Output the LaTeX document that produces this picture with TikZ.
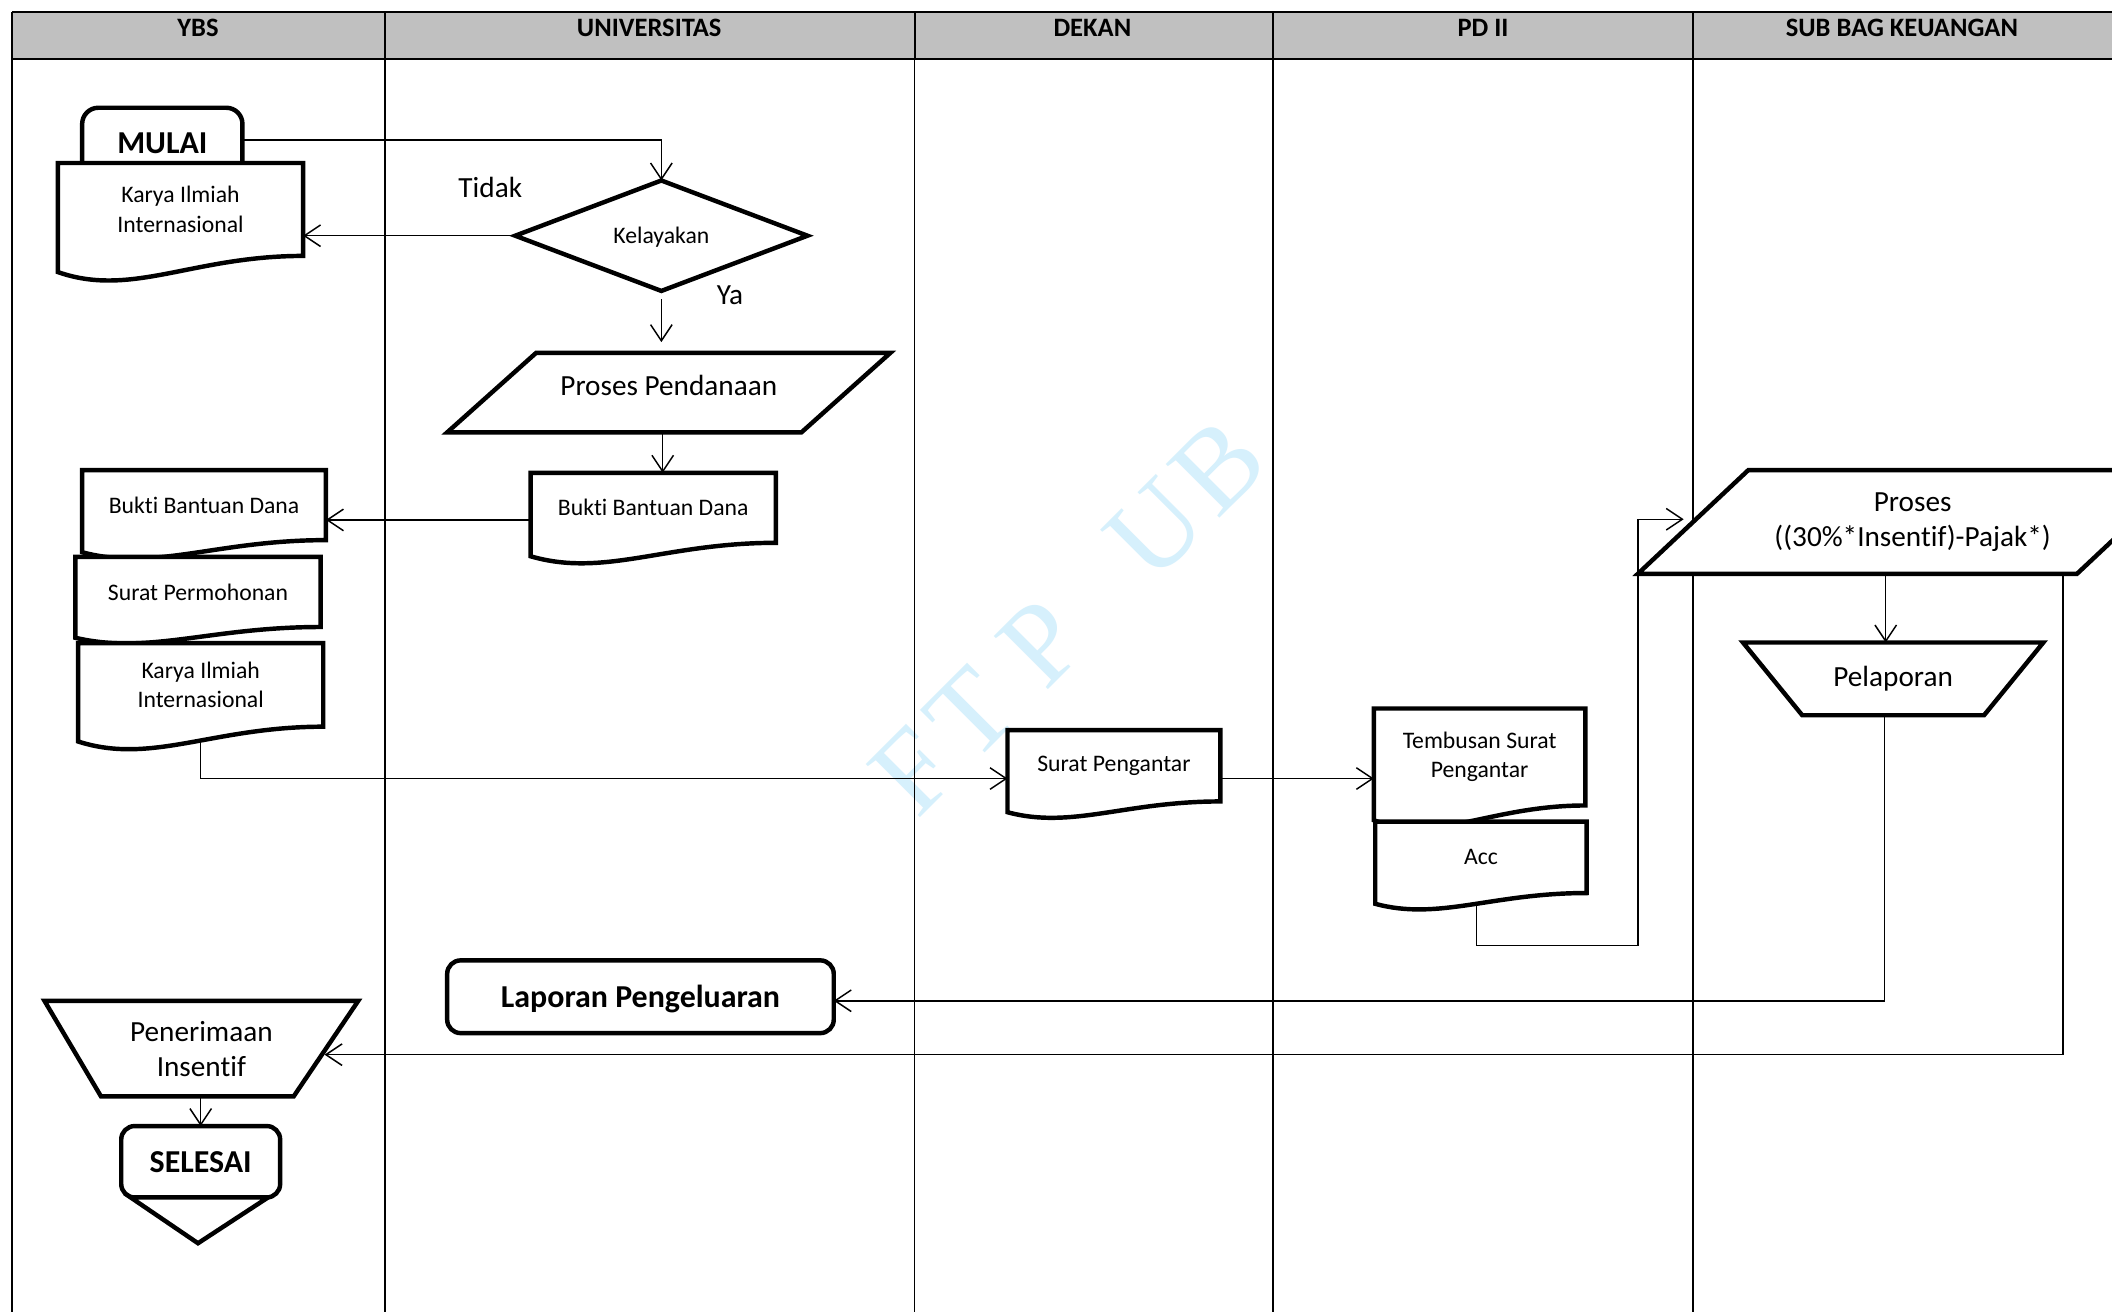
\documentclass[tikz,border=0pt]{standalone}
\usepackage{fontspec}
\setmainfont{Carlito}[Ligatures=CommonOff]
\newfontfamily\wmfont{Liberation Serif}
\usetikzlibrary{arrows.meta,calc}
\definecolor{hdrgray}{RGB}{192,192,192}
\definecolor{wmblue}{RGB}{214,240,252}
\pgfdeclarelayer{back}
\pgfdeclarelayer{conns}
\pgfdeclarelayer{shapes}
\pgfsetlayers{back,conns,shapes,main}
\newcommand{\fsm}{\fontsize{17.6}{22}\selectfont}
\newcommand{\fmd}{\fontsize{21.7}{26}\selectfont}
\newcommand{\fbg}{\fontsize{23.7}{28}\selectfont\bfseries}
\newcommand{\fhd}{\fontsize{19.7}{24}\selectfont\bfseries}
\tikzset{
  shp/.style={line width=3.3pt, draw=black, fill=white},
  conn/.style={line width=1.1pt, -{Straight Barb[length=12pt,width=16pt]}},
  box/.style={inner sep=0pt, outer sep=0pt, align=center},
  lane/.style={line width=1.2pt},
  hline/.style={line width=1.6pt},
  wmark/.style={text=wmblue, font=\wmfont\fontsize{86}{86}\selectfont, rotate=45, inner sep=0pt, outer sep=0pt, anchor=base west},
}
\newcommand{\docdraw}[2]{%
  \draw[shp] (#1.north west) -- (#1.north east) -- (#1.south east)
    .. controls ($(#1.south east)!0.45!(#1.south west)$)
       and ($(#1.south west)!0.3!(#1.south east)+(0,{2.6*#2})$)
    .. ($(#1.south west)+(0,#2)$) -- cycle;}
\begin{document}
\begin{tikzpicture}[x=1pt,y=-1pt]
\useasboundingbox (0,0) rectangle (1568,974);
% ---------- background, lanes, watermark ----------
\begin{pgfonlayer}{back}
\fill[white] (0,0) rectangle (1568,974);
\fill[hdrgray] (9,9) rectangle (1600,44);
\node[wmark] (wF) at (681.3,609.1) {F};
\node[wmark] (wT) at (721.9,568.5) {T};
\node[wmark] (wP) at (776,514.4) {P};
\node[wmark] (wU) at (855.9,434.5) {U};
\node[wmark] (wB) at (904,386.4) {B};
\draw[hline] (9,9) -- (1600,9);
\draw[hline] (9,44) -- (1600,44);
\draw[lane] (9,9) -- (9,1000);
\foreach \xx in {286,679,945,1257} {
  \draw[hline] (\xx,9) -- (\xx,44);
  \draw[lane] (\xx,44) -- (\xx,1000);
}
\end{pgfonlayer}
% ---------- headers ----------
\node[font=\fhd] (h1) at (147,21) {YBS};
\node[font=\fhd] (h2) at (482,21) {UNIVERSITAS};
\node[font=\fhd] (h3) at (811,21) {DEKAN};
\node[font=\fhd] (h4) at (1101,21) {PD II};
\node[font=\fhd] (h5) at (1412,21) {SUB BAG KEUANGAN};
% ---------- nodes ----------
\node[box, font=\fbg, minimum width=119pt, minimum height=52pt] (mulai) at (120.5,106) {MULAI};
\node[box, font=\fsm, minimum width=182pt, minimum height=69pt] (k1) at (134,155.5) {Karya Ilmiah\\Internasional};
\node[box, font=\fsm, minimum width=217pt, minimum height=82pt, text depth=0pt] (dia) at (491,175) {Kelayakan};
\node[font=\fmd] (tidak) at (364,139) {Tidak};
\node[font=\fmd] (ya) at (542,219) {Ya};
\node[box, font=\fmd, minimum width=329pt, minimum height=59pt, text depth=11pt] (pp) at (496.5,291.5) {Proses Pendanaan};
\node[box, font=\fsm, minimum width=182pt, minimum height=52pt] (bbu) at (485,377) {Bukti Bantuan Dana};
\node[box, font=\fsm, minimum width=181pt, minimum height=52pt] (bbl) at (151.5,375) {Bukti Bantuan Dana};
\node[box, font=\fsm, minimum width=182pt, minimum height=52pt] (spl) at (147,439.5) {Surat Permohonan};
\node[box, font=\fsm, minimum width=182pt, minimum height=62pt] (k2) at (149,508.5) {Karya Ilmiah\\Internasional};
\node[box, font=\fsm, minimum width=158pt, minimum height=53pt] (ssp) at (827,568.5) {Surat Pengantar};
\node[box, font=\fsm, minimum width=157pt, minimum height=72pt] (tsp) at (1098.5,562) {Tembusan Surat\\Pengantar};
\node[box, font=\fsm, minimum width=157pt, minimum height=53pt] (acc) at (1099.5,636.5) {Acc};
\node[box, font=\fmd, minimum width=408pt, minimum height=77pt] (prc) at (1420,387.5) {Proses\\((30\%*Insentif)-Pajak*)};
\node[box, font=\fmd, minimum width=223pt, minimum height=54pt] (pel) at (1405.5,504) {Pelaporan};
\node[box, font=\fbg, minimum width=287pt, minimum height=54pt, text depth=0pt] (lap) at (475.5,740) {Laporan Pengeluaran};
\node[box, font=\fmd, minimum width=233pt, minimum height=71pt] (pen) at (149.5,778.5) {Penerimaan\\Insentif};
\node[box, font=\fbg, minimum width=118pt, minimum height=53pt] (sel) at (149,862.5) {SELESAI};
% ---------- shapes ----------
\begin{pgfonlayer}{shapes}
\draw[shp, rounded corners=12pt] (mulai.south west) -- (mulai.north west) -- (mulai.north east) -- (mulai.south east);
\docdraw{k1}{12}
\draw[shp] (dia.north) -- (dia.east) -- (dia.south) -- (dia.west) -- cycle;
\draw[shp] ([xshift=66pt]pp.north west) -- (pp.north east) -- ([xshift=-66pt]pp.south east) -- (pp.south west) -- cycle;
\docdraw{bbu}{10}
\docdraw{bbl}{9}
\docdraw{spl}{8}
\docdraw{k2}{11}
\docdraw{ssp}{8}
\docdraw{tsp}{11}
\docdraw{acc}{8}
\draw[shp] ([xshift=82pt]prc.north west) -- (prc.north east) -- ([xshift=-82pt]prc.south east) -- (prc.south west) -- cycle;
\draw[shp] (pel.north west) -- (pel.north east) -- ([xshift=-44pt]pel.south east) -- ([xshift=44pt]pel.south west) -- cycle;
\draw[shp, rounded corners=10pt] (lap.south west) rectangle (lap.north east);
\draw[shp] (pen.north west) -- (pen.north east) -- ([xshift=-48pt]pen.south east) -- ([xshift=42pt]pen.south west) -- cycle;
\draw[shp, rounded corners=10pt] (sel.south west) rectangle (sel.north east);
\draw[shp] ([xshift=7pt]sel.south west) -- ([xshift=-9pt]sel.south east) -- ($(sel.south)+(-2,34)$) -- cycle;
\end{pgfonlayer}
% ---------- connectors ----------
\coordinate (m1) at ([yshift=2pt]mulai.east);
\coordinate (c2) at ([xshift=-4.5pt]pp.south);
\coordinate (c3) at ([yshift=-9pt]bbu.west);
\coordinate (c4) at ([yshift=-9.5pt]ssp.west);
\coordinate (c5) at ([yshift=2pt]prc.west);
\coordinate (c6) at ([xshift=-3.5pt]acc.south);
\coordinate (c8) at ([xshift=-5.5pt]pel.north);
\coordinate (c9) at ([xshift=-6.5pt]pel.south);
\coordinate (c10) at ([yshift=-3pt]lap.east);
\coordinate (c11) at ([xshift=111.5pt]prc.south);
\coordinate (c12) at ([xshift=-25pt,yshift=-4.5pt]pen.east);
\begin{pgfonlayer}{conns}
\draw[conn] (m1) -| (dia.north);
\draw[conn] (dia.west) -- (dia.west -| k1.east);
\draw[conn, shorten <=6pt, shorten >=8pt] (dia.south) -- (dia.south |- pp.north);
\draw[conn] (c2) -- (c2 |- bbu.north);
\draw[conn] (c3) -- (c3 -| bbl.east);
\draw[conn] (k2.south) |- (c4);
\draw[conn] (c4) -- (c4 -| tsp.west);
\draw[conn] (c6) -- ++(0,39) -| (c5) -- ++(34,0);
\draw[conn] (c8 |- prc.south) -- (c8);
\draw[conn] (c9) |- (c10);
\draw[conn] (c11) |- (c12);
\draw[conn] (pen.south -| sel.north) -- (sel.north);
\end{pgfonlayer}
\end{tikzpicture}
\end{document}
